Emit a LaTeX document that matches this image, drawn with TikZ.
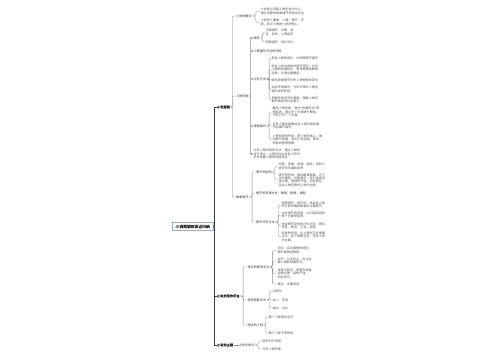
\documentclass[tikz,border=0pt]{standalone}
\usepackage{fontspec}
\setmainfont{Noto Sans CJK SC}
\newfontfamily\cjkbold{Noto Sans CJK SC}[FakeBold=2]
\usetikzlibrary{positioning}

\definecolor{ink}{HTML}{333333}
\definecolor{softink}{HTML}{555555}
\definecolor{rootline}{HTML}{9FB0C8}
\definecolor{trunkline}{HTML}{3C3C3C}
\definecolor{wireline}{HTML}{8A8A8A}
\definecolor{bandline}{HTML}{B4B4B4}

\tikzset{
  rootbox/.style={draw=rootline,fill=white,line width=0.4pt,inner xsep=3pt,inner ysep=2.4pt,text=ink,font=\cjkbold\fontsize{3.8}{4.4}\selectfont},
  topic/.style={anchor=west,inner sep=0.4pt,text=ink,font=\cjkbold\fontsize{3.2}{3.8}\selectfont},
  sub/.style={anchor=west,inner sep=0.4pt,text=ink,font=\fontsize{3.1}{3.6}\selectfont},
  leaf/.style={anchor=west,inner sep=0.4pt,align=left,text=softink,font=\fontsize{3.1}{3.4}\selectfont},
  trunk/.style={draw=trunkline,line width=0.8pt},
  wire/.style={draw=wireline,line width=0.4pt,rounded corners=1pt},
  band/.style={draw=bandline,line width=1.1pt},
  curly/.style={draw=wireline,line width=0.35pt,rounded corners=1.5pt}
}

\begin{document}
\begin{tikzpicture}[x=1pt,y=-1pt]
      \useasboundingbox[fill=white] (0,0) rectangle (500,360);
      % root and main branches
      \node[rootbox,anchor=east] (R) at (213,226.5) {小说阅读知识点归纳};
      \node[topic] (A) at (216.5,107) {小说要素};
      \node[topic] (B) at (216.5,296) {小说的写作手法};
      \node[topic] (C) at (216.5,345) {小说的主题};
      \draw[trunk] (R.east) -- ++(1,0) |- (A.west);
      \draw[trunk] (R.east) -- ++(1,0) |- (B.west);
      \draw[trunk] (R.east) -- ++(1,0) |- (C.west);

      % 小说要素
      \node[sub] (A1) at (235.5,16) {小说的概念};
      \node[sub] (A2) at (235.5,96) {人物形象};
      \node[sub] (A3) at (235.5,197) {故事情节};
      \draw[wire] (A.east) -- ++(2,0) |- (A1.west);
      \draw[wire] (A.east) -- ++(2,0) |- (A2.west);
      \draw[wire] (A.east) -- ++(2,0) |- (A3.west);

      \node[leaf] (A1a) at (260,11.5) {小说是以刻画人物形象为中心，\\通过完整的故事情节来反映生活};
      \node[leaf] (A1b) at (260,22.5) {小说的三要素：人物、情节、环\\境，其中人物是小说的核心。};
      \draw[curly] (A1.east) -- ++(3.5,0) |- (A1a.west);
      \draw[curly] (A1.east) -- ++(3.5,0) |- (A1b.west);

      % 人物形象
      \node[sub] (A2a) at (253,38) {描写};
      \node[sub] (A2b) at (253,51) {人物描写方法的作用};
      \node[sub] (A2c) at (253,79) {分析方法};
      \node[sub] (A2d) at (253,126) {答题格式};
      \node[leaf] (A2e) at (253,154) {分析人物形象的方法：通过人物的\\言行举止、心理活动以及他人的评\\价来把握人物的性格特点。};
      \draw[band] (A2.east) -- ++(1.5,0) |- (A2a.west);
      \draw[band] (A2.east) -- ++(1.5,0) |- (A2b.west);
      \draw[band] (A2.east) -- ++(1.5,0) |- (A2c.west);
      \draw[band] (A2.east) -- ++(1.5,0) |- (A2d.west);
      \draw[band] (A2.east) -- ++(1.5,0) |- (A2e.west);

      \node[leaf] (A2a1) at (265,32.5) {正面描写：肖像、语\\言、动作、心理描写};
      \node[leaf] (A2a2) at (265,42) {侧面描写：烘托对比};
      \draw[curly] (A2a.east) -- ++(2,0) |- (A2a1.west);
      \draw[curly] (A2a.east) -- ++(2,0) |- (A2a2.west);

      \node[leaf] (A2c1) at (271,58) {抓住人物的语言、动作等细节描写};
      \node[leaf] (A2c2) at (271,69.5) {结合小说中具体的描写语句，分析\\人物的性格特点、思想感情和精神\\品质，注意全面概括。};
      \node[leaf] (A2c3) at (271,80) {联系故事情节分析人物性格的变化};
      \node[leaf] (A2c4) at (271,89.5) {结合环境描写，分析环境对人物性\\格形成的影响。};
      \node[leaf] (A2c5) at (271,100) {把握作者的写作意图，理解人物形\\象所蕴含的社会意义。};
      \draw[curly] (A2c.east) -- ++(2.5,0) |- (A2c1.west);
      \draw[curly] (A2c.east) -- ++(2.5,0) |- (A2c2.west);
      \draw[curly] (A2c.east) -- ++(2.5,0) |- (A2c3.west);
      \draw[curly] (A2c.east) -- ++(2.5,0) |- (A2c4.west);
      \draw[curly] (A2c.east) -- ++(2.5,0) |- (A2c5.west);

      \node[leaf] (A2d1) at (272,112) {概括人物形象：身份+性格特点+思\\想品质，要从多个方面进行概括，\\不能只写一个方面。};
      \node[leaf] (A2d2) at (272,126) {分析人物形象要结合小说的具体情\\节和细节描写。};
      \node[leaf] (A2d3) at (272,139.5) {人物形象的作用：是小说的核心，推\\动情节发展，深化小说主题，表达\\作者的思想感情。};
      \draw[curly] (A2d.east) -- ++(2.5,0) |- (A2d1.west);
      \draw[curly] (A2d.east) -- ++(2.5,0) |- (A2d2.west);
      \draw[curly] (A2d.east) -- ++(2.5,0) |- (A2d3.west);

      % 故事情节
      \node[sub] (A3a) at (255.5,172) {情节的结构};
      \node[sub] (A3b) at (255.5,193) {情节的安排方式：顺叙、倒叙、插叙};
      \node[sub] (A3c) at (255.5,222) {情节分析方法};
      \draw[wire] (A3.east) -- ++(3,0) |- (A3a.west);
      \draw[wire] (A3.east) -- ++(3,0) |- (A3b.west);
      \draw[wire] (A3.east) -- ++(3,0) |- (A3c.west);

      \node[leaf] (A3a1) at (278,166.5) {开端、发展、高潮、结局，有的小\\说还有序幕和尾声。};
      \node[leaf] (A3a2) at (278,180) {情节的作用：推动故事发展，为下\\文作铺垫，设置悬念，吸引读者阅\\读兴趣，使结构严谨，前后照应，\\突出人物形象和小说的主题。};
      \draw[curly] (A3a.east) -- ++(2.5,0) |- (A3a1.west);
      \draw[curly] (A3a.east) -- ++(2.5,0) |- (A3a2.west);

      \node[leaf] (A3c1) at (281,205) {梳理情节：按时间、地点或人物\\的行踪来概括故事的主要情节。};
      \node[leaf] (A3c2) at (281,215) {分析情节的作用，从内容和结构\\两个方面来回答。};
      \node[leaf] (A3c3) at (281,225.5) {体会情节安排的巧妙之处：悬念、\\伏笔、照应、巧合、突转。};
      \node[leaf] (A3c4) at (281,236.5) {结尾的作用：出人意料又在情理\\之中，留下想象空间，深化小说\\的主题。};
      \draw[curly] (A3c.east) -- ++(3,0) |- (A3c1.west);
      \draw[curly] (A3c.east) -- ++(3,0) |- (A3c2.west);
      \draw[curly] (A3c.east) -- ++(3,0) |- (A3c3.west);
      \draw[curly] (A3c.east) -- ++(3,0) |- (A3c4.west);

      % 小说的写作手法
      \node[sub] (B1) at (247,267) {常见的表现手法};
      \node[sub] (B2) at (247,300) {常用修辞手法};
      \node[sub] (B3) at (247,325) {叙述的人称};
      \draw[wire] (B.east) -- ++(3,0) |- (B1.west);
      \draw[wire] (B.east) -- ++(3,0) |- (B2.west);
      \draw[wire] (B.east) -- ++(3,0) |- (B3.west);

      \node[leaf] (B1a) at (277,250.5) {对比：突出事物的特征，\\使形象更加鲜明。};
      \node[leaf] (B1b) at (277,261) {衬托：以次衬主，突出主\\要人物的性格特点。};
      \node[leaf] (B1c) at (277,273.5) {伏笔与照应：使情节发展\\合情合理，结构严谨，\\前后呼应。};
      \node[leaf] (B1d) at (277,284) {象征：含蓄深刻。};
      \draw[curly] (B1.east) -- ++(2.5,0) |- (B1a.west);
      \draw[curly] (B1.east) -- ++(2.5,0) |- (B1b.west);
      \draw[curly] (B1.east) -- ++(2.5,0) |- (B1c.west);
      \draw[curly] (B1.east) -- ++(2.5,0) |- (B1d.west);

      \node[leaf] (B2a) at (272,291) {比喻句};
      \node[leaf] (B2b) at (272,300) {拟人、夸张};
      \node[leaf] (B2c) at (272,308) {排比、对比};
      \draw[curly] (B2.east) -- ++(2.5,0) |- (B2a.west);
      \draw[curly] (B2.east) -- ++(2.5,0) |- (B2b.west);
      \draw[curly] (B2.east) -- ++(2.5,0) |- (B2c.west);

      \node[leaf] (B3a) at (268,317) {第一人称真实亲切};
      \node[leaf] (B3b) at (268,333) {第三人称不受限制};
      \draw[curly] (B3.east) -- ++(2,0) |- (B3a.west);
      \draw[curly] (B3.east) -- ++(2,0) |- (B3b.west);

      % 小说的主题
      \node[leaf] (C1) at (238.5,345) {主题的概括};
      \draw[wire] (C.east) -- (C1.west);
      \node[leaf] (C1a) at (262,341) {联系时代背景};
      \node[leaf] (C1b) at (262,349) {分析人物形象};
      \draw[curly] (C1.east) -- ++(3,0) |- (C1a.west);
      \draw[curly] (C1.east) -- ++(3,0) |- (C1b.west);
\end{tikzpicture}
\end{document}
